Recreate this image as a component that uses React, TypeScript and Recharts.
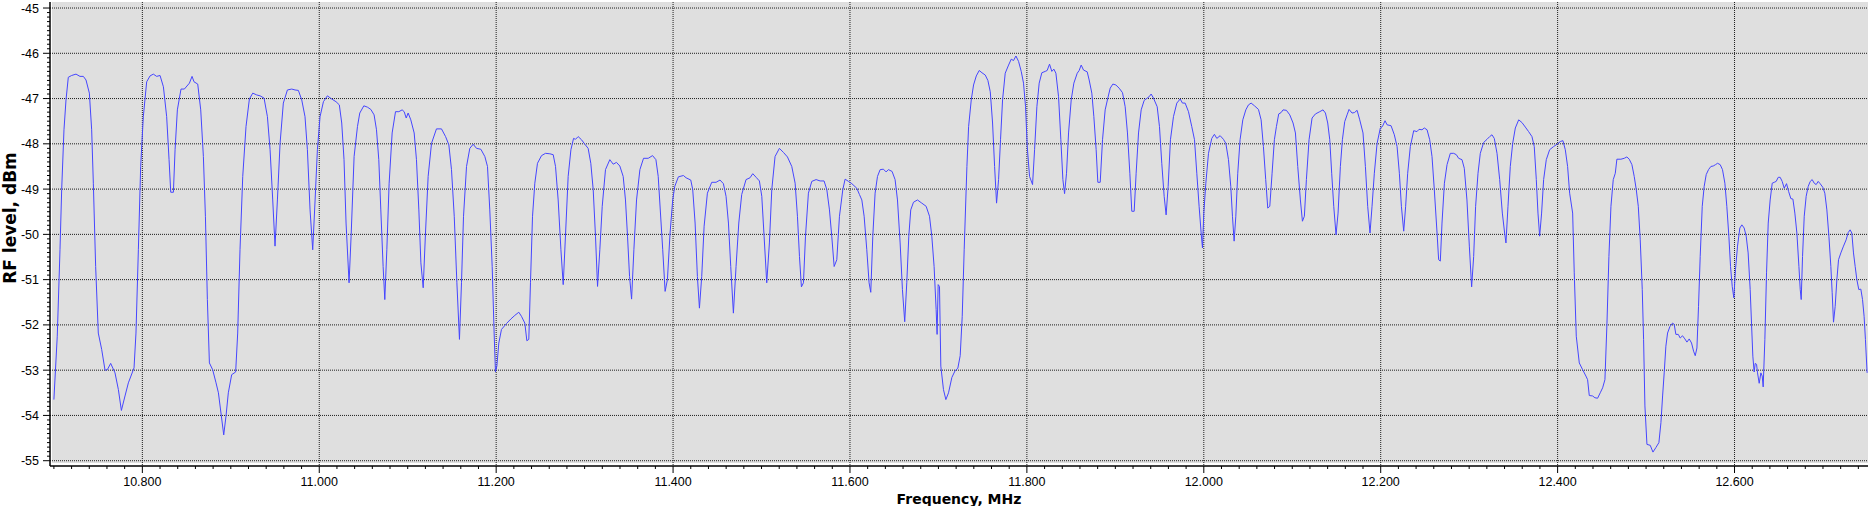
import { LineChart, Line, XAxis, YAxis, CartesianGrid } from "recharts";

// spectrum trace, MHz / dBm
const freqMHz = [
  10.7, 10.7038, 10.7069, 10.7088, 10.7114, 10.7137, 10.7163, 10.7201, 10.725, 10.7295,
  10.7333, 10.7363, 10.7401, 10.7427, 10.7446, 10.7472, 10.7502, 10.754, 10.7578, 10.7604,
  10.7642, 10.7691, 10.7729, 10.7763, 10.7804, 10.7842, 10.7906, 10.7928, 10.7955, 10.7981,
  10.8011, 10.8049, 10.8087, 10.8124, 10.8162, 10.82, 10.8238, 10.8275, 10.8302, 10.8321,
  10.8351, 10.837, 10.8396, 10.8437, 10.8475, 10.8532, 10.8562, 10.8584, 10.8626, 10.866,
  10.869, 10.8713, 10.8735, 10.8758, 10.8795, 10.8833, 10.886, 10.8893, 10.892, 10.8946,
  10.8972, 10.901, 10.9055, 10.9078, 10.9104, 10.9135, 10.9172, 10.921, 10.9248, 10.9293,
  10.9331, 10.9376, 10.9414, 10.9444, 10.9474, 10.95, 10.9527, 10.9557, 10.9594, 10.964,
  10.9689, 10.9726, 10.9764, 10.9802, 10.9839, 10.9866, 10.9896, 10.9926, 10.9953, 10.9979,
  11.0009, 11.0047, 11.0092, 11.0141, 11.019, 11.0227, 11.0254, 11.028, 11.0303, 11.0337,
  11.036, 11.0394, 11.0432, 11.0458, 11.0504, 11.0545, 11.0583, 11.062, 11.0647, 11.0673,
  11.0696, 11.0722, 11.0741, 11.0764, 11.079, 11.0824, 11.0862, 11.09, 11.0937, 11.096,
  11.0983, 11.1005, 11.1035, 11.1073, 11.1099, 11.1126, 11.1149, 11.1175, 11.1201, 11.1231,
  11.1269, 11.1325, 11.1382, 11.1428, 11.1465, 11.1495, 11.1526, 11.1556, 11.1585, 11.1608,
  11.1631, 11.1665, 11.1702, 11.174, 11.1778, 11.1827, 11.1872, 11.1902, 11.1928, 11.1955,
  11.1977, 11.1992, 11.2008, 11.203, 11.206, 11.2117, 11.2166, 11.2211, 11.2256, 11.2286,
  11.2324, 11.2347, 11.2369, 11.2388, 11.2411, 11.2437, 11.2467, 11.2513, 11.2558, 11.2607,
  11.2645, 11.2671, 11.2701, 11.2732, 11.2758, 11.2785, 11.2814, 11.2845, 11.2875, 11.2897,
  11.2927, 11.2965, 11.3003, 11.304, 11.307, 11.3097, 11.3123, 11.3146, 11.3172, 11.3199,
  11.3236, 11.3285, 11.3323, 11.336, 11.3398, 11.3436, 11.3462, 11.3485, 11.3508, 11.3531,
  11.3557, 11.3587, 11.3625, 11.3666, 11.3719, 11.3768, 11.3806, 11.3832, 11.3883, 11.391,
  11.3936, 11.3966, 11.3996, 11.4019, 11.406, 11.4117, 11.4147, 11.42, 11.4222, 11.4249,
  11.4275, 11.4298, 11.4324, 11.4351, 11.4388, 11.4437, 11.4486, 11.4531, 11.4569, 11.4599,
  11.4626, 11.4652, 11.4682, 11.4712, 11.4743, 11.4776, 11.4825, 11.487, 11.4901, 11.4939,
  11.4976, 11.5003, 11.5029, 11.5059, 11.5089, 11.5116, 11.5153, 11.5202, 11.5248, 11.5293,
  11.5342, 11.538, 11.5406, 11.5429, 11.5451, 11.5474, 11.5497, 11.553, 11.5568, 11.5617,
  11.5662, 11.5707, 11.5738, 11.5768, 11.5794, 11.5821, 11.5851, 11.5881, 11.5919, 11.5945,
  11.5983, 11.6021, 11.6077, 11.6107, 11.6134, 11.616, 11.619, 11.6216, 11.6235, 11.6258,
  11.6284, 11.6311, 11.6341, 11.6378, 11.6408, 11.6435, 11.6476, 11.651, 11.6537, 11.6567,
  11.6593, 11.6619, 11.6642, 11.6665, 11.6687, 11.6718, 11.6763, 11.6812, 11.6861, 11.6899,
  11.6925, 11.6951, 11.6974, 11.6985, 11.6997, 11.7012, 11.7027, 11.7057, 11.7084, 11.7114,
  11.7152, 11.7189, 11.7219, 11.7246, 11.7269, 11.7291, 11.7322, 11.7341, 11.7371, 11.7397,
  11.7428, 11.7461, 11.7492, 11.7529, 11.7559, 11.7586, 11.7612, 11.7635, 11.7657, 11.768,
  11.7702, 11.7725, 11.7755, 11.7793, 11.7823, 11.7849, 11.7876, 11.7906, 11.7936, 11.7962,
  11.7985, 11.8004, 11.803, 11.8064, 11.8087, 11.8113, 11.8139, 11.8169, 11.8207, 11.8229,
  11.8256, 11.8282, 11.8305, 11.8328, 11.8358, 11.8384, 11.8407, 11.8426, 11.8448, 11.8471,
  11.8501, 11.8531, 11.8569, 11.8591, 11.8614, 11.864, 11.8682, 11.8704, 11.8734, 11.8757,
  11.8783, 11.8802, 11.8829, 11.8855, 11.8885, 11.8915, 11.8942, 11.8972, 11.9006, 11.9043,
  11.9081, 11.9111, 11.9137, 11.9164, 11.9186, 11.9213, 11.9235, 11.9262, 11.9292, 11.9326,
  11.936, 11.9382, 11.9405, 11.9431, 11.9473, 11.9499, 11.9525, 11.9552, 11.9574, 11.9597,
  11.9623, 11.9657, 11.9695, 11.9733, 11.9759, 11.9789, 11.9827, 11.9864, 11.9895, 11.9921,
  11.9947, 11.997, 11.9985, 12.0, 12.0023, 12.0053, 12.009, 12.012, 12.0147, 12.0185,
  12.0222, 12.0249, 12.0279, 12.0305, 12.0324, 12.0343, 12.0362, 12.0384, 12.041, 12.0441,
  12.0475, 12.0505, 12.0535, 12.0573, 12.0618, 12.0648, 12.0674, 12.07, 12.0723, 12.0746,
  12.0772, 12.0798, 12.0821, 12.0847, 12.0874, 12.0896, 12.0934, 12.0972, 12.1009, 12.1036,
  12.1062, 12.1092, 12.1115, 12.1137, 12.116, 12.119, 12.1224, 12.1262, 12.1311, 12.1348,
  12.1375, 12.1401, 12.1424, 12.1446, 12.1469, 12.1495, 12.1518, 12.1544, 12.1567, 12.1593,
  12.162, 12.1642, 12.1676, 12.1703, 12.1733, 12.1763, 12.18, 12.1827, 12.1853, 12.1879,
  12.1902, 12.1928, 12.1959, 12.1996, 12.2019, 12.2049, 12.2072, 12.2117, 12.2154, 12.2185,
  12.2211, 12.2234, 12.226, 12.2282, 12.2305, 12.2335, 12.2373, 12.241, 12.2433, 12.2467,
  12.2493, 12.2524, 12.2554, 12.258, 12.2606, 12.2637, 12.2655, 12.2674, 12.2693, 12.272,
  12.275, 12.2787, 12.2825, 12.2855, 12.2881, 12.2919, 12.2945, 12.2975, 12.3002, 12.3028,
  12.3051, 12.3073, 12.31, 12.3126, 12.3164, 12.3202, 12.3232, 12.3258, 12.3284, 12.3315,
  12.3345, 12.3375, 12.3401, 12.3416, 12.3439, 12.3465, 12.3492, 12.3522, 12.356, 12.3597,
  12.3635, 12.3672, 12.371, 12.3736, 12.3759, 12.3778, 12.3797, 12.3819, 12.3842, 12.3872,
  12.391, 12.3955, 12.4, 12.403, 12.406, 12.4087, 12.4113, 12.4136, 12.417, 12.4188,
  12.4211, 12.4245, 12.4283, 12.432, 12.4339, 12.4358, 12.4396, 12.4422, 12.4452, 12.4482,
  12.4509, 12.4535, 12.4558, 12.458, 12.4603, 12.4629, 12.4652, 12.467, 12.4716, 12.4753,
  12.4783, 12.481, 12.484, 12.4866, 12.4889, 12.4912, 12.4934, 12.4957, 12.4972, 12.4987,
  12.501, 12.5047, 12.5078, 12.5111, 12.5145, 12.5168, 12.5187, 12.5205, 12.5224, 12.5243,
  12.5269, 12.53, 12.5318, 12.5337, 12.5364, 12.5386, 12.5412, 12.5439, 12.5462, 12.5488,
  12.5514, 12.5537, 12.5556, 12.5575, 12.5593, 12.5612, 12.5635, 12.5657, 12.568, 12.5706,
  12.5733, 12.5759, 12.5785, 12.5808, 12.5838, 12.5864, 12.5891, 12.5913, 12.5936, 12.5955,
  12.5974, 12.5992, 12.6011, 12.6034, 12.606, 12.6083, 12.6109, 12.6132, 12.6154, 12.6177,
  12.6192, 12.6207, 12.6222, 12.6234, 12.6249, 12.626, 12.6279, 12.6298, 12.6313, 12.6324,
  12.6343, 12.6362, 12.6381, 12.6403, 12.6426, 12.6449, 12.6471, 12.6494, 12.6516, 12.6539,
  12.6562, 12.6588, 12.6611, 12.6637, 12.666, 12.6682, 12.6705, 12.6728, 12.6743, 12.6754,
  12.6769, 12.6788, 12.681, 12.6833, 12.6856, 12.6878, 12.6901, 12.6923, 12.6946, 12.6968,
  12.6998, 12.7021, 12.7044, 12.7067, 12.7089, 12.7104, 12.7119, 12.7138, 12.7157, 12.7176,
  12.7202, 12.7232, 12.7262, 12.7285, 12.7307, 12.7326, 12.7345, 12.7364, 12.7383, 12.7405,
  12.7428, 12.7447, 12.7465, 12.748, 12.7499,
];

const levelDbm = [
  -53.65, -52.25, -50.34, -49.01, -47.69, -47.03, -46.53, -46.49, -46.46, -46.51,
  -46.51, -46.59, -46.88, -47.69, -48.87, -50.71, -52.18, -52.54, -53.0, -52.99,
  -52.85, -53.06, -53.43, -53.89, -53.57, -53.28, -52.95, -52.18, -50.34, -48.5,
  -47.4, -46.63, -46.5, -46.46, -46.51, -46.49, -46.74, -47.4, -48.35, -49.07,
  -49.07, -48.13, -47.25, -46.79, -46.79, -46.66, -46.51, -46.63, -46.68, -47.25,
  -48.28, -49.6, -51.44, -52.84, -52.99, -53.28, -53.5, -54.01, -54.43, -54.01,
  -53.5, -53.1, -53.04, -52.18, -50.34, -48.72, -47.62, -47.01, -46.88, -46.92,
  -46.94, -46.99, -47.4, -48.13, -49.24, -50.26, -49.24, -47.99, -47.1, -46.81,
  -46.79, -46.81, -46.82, -47.03, -47.4, -48.13, -49.46, -50.34, -49.24, -48.13,
  -47.4, -47.07, -46.94, -47.01, -47.07, -47.14, -47.54, -48.35, -49.75, -51.07,
  -50.04, -48.28, -47.62, -47.32, -47.16, -47.19, -47.24, -47.36, -47.69, -48.35,
  -49.46, -50.71, -51.44, -50.34, -48.87, -47.76, -47.29, -47.29, -47.25, -47.29,
  -47.43, -47.32, -47.47, -47.76, -48.35, -49.46, -50.63, -51.18, -49.97, -48.72,
  -47.99, -47.67, -47.67, -47.84, -48.02, -48.57, -49.6, -51.07, -52.32, -51.07,
  -49.6, -48.5, -48.1, -48.01, -48.1, -48.12, -48.28, -48.5, -49.46, -50.71,
  -52.18, -53.04, -52.91, -52.4, -52.1, -51.97, -51.87, -51.79, -51.72, -51.81,
  -51.96, -52.35, -52.32, -51.07, -49.6, -48.87, -48.43, -48.26, -48.21, -48.22,
  -48.24, -48.5, -49.24, -50.34, -51.11, -49.97, -48.72, -48.13, -47.88, -47.9,
  -47.84, -47.91, -48.01, -48.1, -48.43, -49.01, -50.04, -51.15, -50.34, -49.38,
  -48.57, -48.35, -48.45, -48.41, -48.49, -48.72, -49.24, -50.04, -50.93, -51.43,
  -50.34, -49.24, -48.57, -48.32, -48.32, -48.26, -48.35, -48.72, -50.34, -51.26,
  -51.0, -49.97, -49.24, -48.94, -48.73, -48.7, -48.75, -48.8, -49.01, -49.75,
  -50.93, -51.63, -50.93, -49.82, -49.09, -48.85, -48.85, -48.8, -48.88, -49.16,
  -49.75, -50.71, -51.74, -50.71, -49.75, -49.12, -48.79, -48.75, -48.66, -48.74,
  -48.82, -49.16, -50.04, -51.07, -50.19, -49.01, -48.28, -48.1, -48.19, -48.29,
  -48.5, -48.87, -49.6, -50.49, -51.16, -51.07, -50.04, -49.09, -48.83, -48.79,
  -48.82, -48.82, -49.01, -49.46, -50.04, -50.71, -50.56, -49.6, -49.01, -48.78,
  -48.83, -48.88, -48.98, -49.12, -49.24, -49.6, -50.34, -51.07, -51.28, -50.04,
  -49.09, -48.72, -48.57, -48.56, -48.62, -48.57, -48.61, -48.79, -49.24, -50.19,
  -51.22, -51.93, -51.07, -50.04, -49.46, -49.29, -49.24, -49.31, -49.38, -49.6,
  -50.04, -50.71, -51.66, -52.21, -51.11, -51.15, -52.91, -53.43, -53.65, -53.5,
  -53.16, -53.01, -52.96, -52.68, -51.81, -50.34, -48.5, -47.62, -47.03, -46.7,
  -46.5, -46.38, -46.43, -46.48, -46.6, -46.85, -47.54, -48.5, -49.31, -48.79,
  -47.91, -47.03, -46.44, -46.26, -46.13, -46.16, -46.06, -46.18, -46.4, -46.66,
  -47.18, -48.06, -48.72, -48.9, -48.13, -47.18, -46.66, -46.43, -46.4, -46.38,
  -46.24, -46.4, -46.35, -46.44, -46.96, -47.91, -48.79, -49.1, -48.65, -47.76,
  -47.03, -46.66, -46.44, -46.38, -46.26, -46.37, -46.41, -46.59, -46.88, -47.4,
  -48.13, -48.85, -48.85, -47.91, -47.25, -46.99, -46.77, -46.68, -46.7, -46.77,
  -46.87, -47.18, -47.76, -48.65, -49.49, -49.49, -48.65, -47.76, -47.25, -47.04,
  -46.99, -46.96, -46.9, -46.99, -47.18, -47.62, -48.43, -49.16, -49.57, -48.94,
  -47.91, -47.4, -47.1, -47.01, -47.1, -47.1, -47.29, -47.62, -47.91, -48.65,
  -49.38, -49.97, -50.3, -49.53, -48.87, -48.21, -47.88, -47.79, -47.88, -47.82,
  -47.9, -47.99, -48.35, -48.94, -49.6, -50.15, -49.6, -48.65, -47.91, -47.47,
  -47.25, -47.14, -47.1, -47.16, -47.24, -47.47, -48.06, -48.79, -49.42, -49.38,
  -48.65, -47.91, -47.62, -47.34, -47.31, -47.25, -47.26, -47.36, -47.54, -47.76,
  -48.5, -49.24, -49.71, -49.6, -48.79, -47.91, -47.43, -47.34, -47.29, -47.25,
  -47.32, -47.54, -47.91, -48.65, -49.38, -50.01, -49.53, -48.5, -47.91, -47.51,
  -47.36, -47.24, -47.32, -47.31, -47.26, -47.47, -47.76, -48.5, -49.38, -49.97,
  -49.38, -48.65, -47.99, -47.65, -47.62, -47.49, -47.58, -47.6, -47.8, -48.06,
  -48.65, -49.38, -49.93, -49.38, -48.65, -48.06, -47.71, -47.73, -47.68, -47.69,
  -47.65, -47.69, -47.91, -48.28, -49.01, -49.97, -50.56, -50.59, -49.75, -48.87,
  -48.46, -48.21, -48.21, -48.24, -48.32, -48.35, -48.54, -49.24, -50.26, -51.16,
  -50.49, -49.38, -48.65, -48.21, -47.97, -47.9, -47.84, -47.8, -47.88, -48.21,
  -48.79, -49.53, -49.97, -50.19, -49.38, -48.5, -47.99, -47.65, -47.47, -47.53,
  -47.63, -47.73, -47.84, -48.06, -48.79, -49.53, -50.04, -49.53, -48.79, -48.35,
  -48.13, -48.06, -48.0, -47.95, -47.93, -48.13, -48.5, -49.09, -49.53, -50.85,
  -52.25, -52.84, -52.99, -53.13, -53.21, -53.56, -53.57, -53.61, -53.62, -53.5,
  -53.39, -53.21, -51.96, -50.49, -49.38, -48.79, -48.65, -48.34, -48.34, -48.32,
  -48.29, -48.34, -48.46, -48.72, -49.01, -49.38, -50.12, -51.22, -52.32, -53.79,
  -54.64, -54.66, -54.81, -54.71, -54.6, -54.16, -53.57, -53.06, -52.47, -52.18,
  -52.04, -51.96, -51.99, -52.21, -52.21, -52.29, -52.24, -52.31, -52.38, -52.31,
  -52.4, -52.58, -52.68, -52.51, -51.59, -50.49, -49.38, -48.94, -48.68, -48.57,
  -48.5, -48.49, -48.46, -48.43, -48.46, -48.57, -48.87, -49.38, -50.04, -50.71,
  -51.15, -51.4, -50.78, -50.26, -49.86, -49.79, -49.86, -50.04, -50.41, -51.22,
  -51.96, -52.69, -53.04, -52.85, -52.87, -53.06, -53.29, -53.06, -53.13, -53.37,
  -52.32, -50.85, -49.75, -49.24, -48.87, -48.85, -48.83, -48.74, -48.74, -48.83,
  -48.98, -48.88, -49.05, -49.21, -49.22, -49.53, -49.97, -50.71, -51.22, -51.44,
  -50.49, -49.6, -49.16, -48.94, -48.83, -48.79, -48.87, -48.9, -48.83, -48.88,
  -48.96, -49.09, -49.46, -50.04, -50.71, -51.29, -51.94, -51.59, -51.0, -50.56,
  -50.41, -50.26, -50.12, -49.96, -49.9, -49.97, -50.41, -50.71, -51.0, -51.22,
  -51.21, -51.44, -51.81, -52.32, -53.06,
];

const majorFreqTicks = [10.8, 11.0, 11.2, 11.4, 11.6, 11.8, 12.0, 12.2, 12.4, 12.6];
const majorLevelTicks = [-55, -54, -53, -52, -51, -50, -49, -48, -47, -46, -45];

// minor ticks: 0.02 MHz and 0.1 dB
const freqTicks = Array.from({ length: 103 }, (_, i) => +(10.7 + i * 0.02).toFixed(2));
const levelTicks = Array.from({ length: 101 }, (_, i) => +(-55 + i * 0.1).toFixed(1));

const chartData = freqMHz.map((f, i) => ({ f, v: levelDbm[i] }));

const tickFont = { fontFamily: "'Liberation Sans', Arial, sans-serif", fontSize: 12.5 };

const FreqTick = (props: any) => {
  const { x, y, payload } = props;
  const val = payload.value as number;
  const major = majorFreqTicks.some((m) => Math.abs(m - val) < 1e-6);
  return (
    <g>
      <line x1={x} y1={y} x2={x} y2={y + (major ? 7 : 3)} stroke="#000" />
      {major && (
        <text x={x} y={y + 20} textAnchor="middle" fill="#000" style={tickFont}>
          {val.toFixed(3)}
        </text>
      )}
    </g>
  );
};

const LevelTick = (props: any) => {
  const { x, y, payload } = props;
  const val = payload.value as number;
  const major = Math.abs(val - Math.round(val)) < 1e-6;
  return (
    <g>
      <line x1={x - (major ? 7 : 3)} y1={y} x2={x} y2={y} stroke="#000" />
      {major && (
        <text x={x - 11} y={y + 4.5} textAnchor="end" fill="#000" style={tickFont}>
          {Math.round(val)}
        </text>
      )}
    </g>
  );
};

const titleFont = {
  fontFamily: "'DejaVu Sans', sans-serif",
  fontWeight: 700,
  whiteSpace: "nowrap" as const,
  color: "#000",
};

export default function App() {
  return (
    <div style={{ position: "absolute", left: 0, top: 0, width: 1870, height: 506, background: "#fff" }}>
      <div style={{ position: "absolute", left: 52, top: 2, width: 1816, height: 461, background: "#dfdfdf" }} />
      <div style={{ position: "absolute", left: 0, top: 0 }}>
        <LineChart width={1870} height={506} data={chartData} margin={{ top: 2, right: 2, bottom: 0, left: 0 }}>
          <CartesianGrid
            stroke="#1e1e1e"
            strokeDasharray="1 1"
            verticalValues={majorFreqTicks}
            horizontalValues={majorLevelTicks}
          />
          <XAxis
            dataKey="f"
            type="number"
            domain={[10.6956, 12.7509]}
            allowDataOverflow
            ticks={freqTicks}
            interval={0}
            height={40}
            tickSize={0}
            tickMargin={0}
            tickLine={false}
            axisLine={{ stroke: "#000", strokeWidth: 1.5 }}
            tick={<FreqTick />}
          />
          <YAxis
            type="number"
            domain={[-55.117, -44.867]}
            allowDataOverflow
            ticks={levelTicks}
            interval={0}
            width={50}
            tickSize={0}
            tickMargin={0}
            tickLine={false}
            axisLine={{ stroke: "#000", strokeWidth: 1.5 }}
            tick={<LevelTick />}
          />
          <Line
            type="linear"
            dataKey="v"
            stroke="#4646ff"
            strokeWidth={1}
            dot={false}
            activeDot={false}
            isAnimationActive={false}
          />
        </LineChart>
      </div>
      <div
        style={{
          ...titleFont,
          fontSize: 14,
          lineHeight: "14px",
          position: "absolute",
          left: 959,
          top: 492,
          transform: "translateX(-50%)",
        }}
      >
        Frequency, MHz
      </div>
      <div
        style={{
          ...titleFont,
          fontSize: 17,
          lineHeight: "17px",
          position: "absolute",
          left: 10,
          top: 218,
          transform: "translate(-50%, -50%) rotate(-90deg)",
        }}
      >
        RF level, dBm
      </div>
    </div>
  );
}
